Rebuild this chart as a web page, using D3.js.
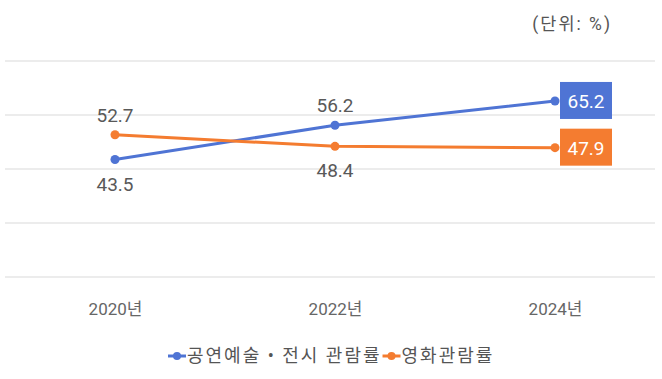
<!DOCTYPE html>
<html><head><meta charset="utf-8">
<script src="https://cdn.jsdelivr.net/npm/d3@7"></script>
<style>
body{margin:0;background:#fff;}
text{font-family:Roboto,"Noto Sans CJK KR",sans-serif;}
</style></head>
<body><svg id="c" width="662" height="379"></svg>
<script>
const categories = ["2020년","2022년","2024년"];
const seriesNames = ["공연예술 • 전시 관람률","영화관람률"];
const perfValues = [43.5, 56.2, 65.2];
const movieValues = [52.7, 48.4, 47.9];
const yTicks = [0,20,40,60,80];
const unitLabel = "(단위: %)";

const colors = ["#4f74d4","#f47c30"];
const kr = "'Noto Sans CJK KR',sans-serif";
const svg = d3.select("#c");
const x = d3.scalePoint().domain(categories).range([115,555]);
const y = d3.scaleLinear().domain([0,80]).range([277,61]);

// gridlines
svg.append("g").selectAll("line").data(yTicks).join("line")
  .attr("x1",5).attr("x2",655)
  .attr("y1",d=>y(d)).attr("y2",d=>y(d))
  .attr("stroke","#d9d9d9").attr("stroke-width",1.2);

// x axis labels
const xa = svg.append("g").attr("transform","translate(0,300)")
  .call(d3.axisBottom(x).tickSize(0).tickPadding(0));
xa.select(".domain").remove();
xa.selectAll("text").attr("font-size",17).attr("fill","#666")
  .attr("font-family",kr).attr("dy","0.9em");

svg.append("text").attr("x",612).attr("y",30).attr("text-anchor","end")
  .attr("font-size",17.5).attr("fill","#555").attr("letter-spacing",2)
  .attr("font-family",kr).text(unitLabel);

const series = [perfValues, movieValues];
const line = d3.line().x((d,i)=>x(categories[i])).y(d=>y(d));
series.forEach((vals,si)=>{
  svg.append("path").datum(vals).attr("d",line).attr("fill","none")
    .attr("stroke",colors[si]).attr("stroke-width",3);
  svg.append("g").selectAll("circle").data(vals).join("circle")
    .attr("cx",(d,i)=>x(categories[i])).attr("cy",d=>y(d)).attr("r",4.5)
    .attr("fill",colors[si]);
});

// data labels
categories.forEach((c,i)=>{
  const a = perfValues[i], b = movieValues[i];
  if(i < categories.length-1){
    const hi = a > b ? a : b, lo = a > b ? b : a;
    svg.append("text").attr("x",x(c)).attr("y",y(hi)-13).attr("text-anchor","middle")
      .attr("font-size",19).attr("fill","#595959").text(hi.toFixed(1));
    svg.append("text").attr("x",x(c)).attr("y",y(lo)+31).attr("text-anchor","middle")
      .attr("font-size",19).attr("fill","#595959").text(lo.toFixed(1));
  } else {
    [a,b].forEach((v,si)=>{
      const cy = y(v);
      svg.append("rect").attr("x",x(c)+5).attr("y",cy-19).attr("width",52).attr("height",37)
        .attr("fill",colors[si]);
      svg.append("text").attr("x",x(c)+31).attr("y",cy+7).attr("text-anchor","middle")
        .attr("font-size",19).attr("fill","#fff").text(v.toFixed(1));
    });
  }
});

// legend
const lg = svg.append("g").attr("transform","translate(168,356)");
let lx = 0;
seriesNames.forEach((n,si)=>{
  lg.append("line").attr("x1",lx).attr("x2",lx+18).attr("y1",0).attr("y2",0)
    .attr("stroke",colors[si]).attr("stroke-width",3);
  lg.append("circle").attr("cx",lx+9).attr("cy",0).attr("r",4).attr("fill",colors[si]);
  const t = lg.append("text").attr("x",lx+19).attr("y",6).attr("font-size",18)
    .attr("letter-spacing",2)
    .attr("fill","#555").attr("font-family",kr).text(n);
  lx += 19 + t.node().getComputedTextLength() + 1;
});
</script></body></html>
